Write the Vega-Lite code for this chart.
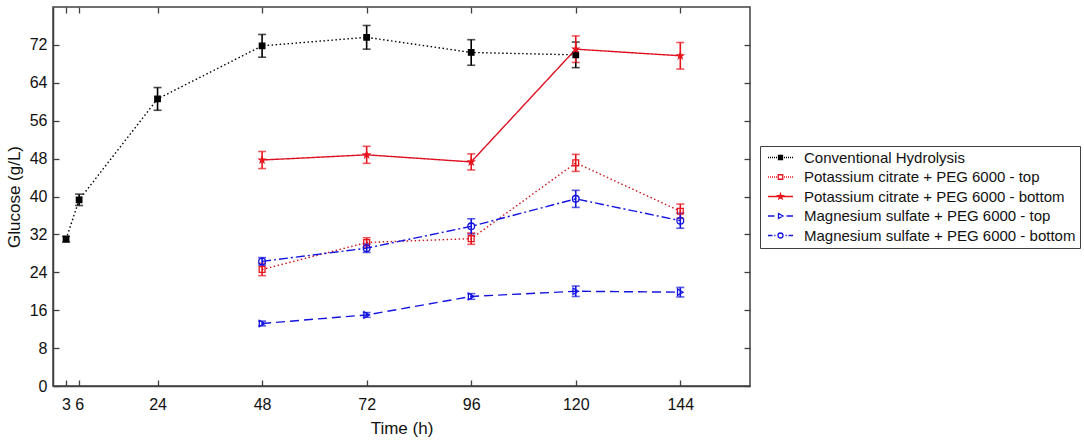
{
  "$schema": "https://vega.github.io/schema/vega-lite/v6.json",
  "width": 697,
  "height": 379,
  "autosize": "none",
  "padding": {"left": 53, "top": 7, "right": 334, "bottom": 54},
  "background": "white",
  "config": {
    "font": "Liberation Sans",
    "view": {"stroke": "#404040", "strokeWidth": 1.5},
    "axis": {
      "grid": false,
      "domainColor": "#404040",
      "domainWidth": 1.5,
      "tickColor": "#404040",
      "tickWidth": 1.3,
      "tickSize": -6,
      "labelColor": "#111111",
      "titleColor": "#111111",
      "labelFontSize": 16,
      "titleFontSize": 17,
      "titleFontWeight": "normal",
      "labelOverlap": false,
      "labelFlush": false
    }
  },
  "data": {
    "values": [
      {"time": 3, "series": "Conventional Hydrolysis", "glucose": 31.0, "sd": 0.6},
      {"time": 6, "series": "Conventional Hydrolysis", "glucose": 39.3, "sd": 1.2},
      {"time": 24, "series": "Conventional Hydrolysis", "glucose": 60.6, "sd": 2.4},
      {"time": 48, "series": "Conventional Hydrolysis", "glucose": 71.8, "sd": 2.4},
      {"time": 72, "series": "Conventional Hydrolysis", "glucose": 73.6, "sd": 2.5},
      {"time": 96, "series": "Conventional Hydrolysis", "glucose": 70.4, "sd": 2.7},
      {"time": 120, "series": "Conventional Hydrolysis", "glucose": 69.9, "sd": 2.7},
      {"time": 48, "series": "Potassium citrate + PEG 6000 - top", "glucose": 24.6, "sd": 1.3},
      {"time": 72, "series": "Potassium citrate + PEG 6000 - top", "glucose": 30.3, "sd": 1.0},
      {"time": 96, "series": "Potassium citrate + PEG 6000 - top", "glucose": 31.1, "sd": 1.2},
      {"time": 120, "series": "Potassium citrate + PEG 6000 - top", "glucose": 47.1, "sd": 1.8},
      {"time": 144, "series": "Potassium citrate + PEG 6000 - top", "glucose": 36.9, "sd": 1.5},
      {"time": 48, "series": "Potassium citrate + PEG 6000 - bottom", "glucose": 47.7, "sd": 1.8},
      {"time": 72, "series": "Potassium citrate + PEG 6000 - bottom", "glucose": 48.8, "sd": 1.8},
      {"time": 96, "series": "Potassium citrate + PEG 6000 - bottom", "glucose": 47.3, "sd": 1.7},
      {"time": 120, "series": "Potassium citrate + PEG 6000 - bottom", "glucose": 71.1, "sd": 2.8},
      {"time": 144, "series": "Potassium citrate + PEG 6000 - bottom", "glucose": 69.7, "sd": 2.8},
      {"time": 48, "series": "Magnesium sulfate + PEG 6000 - top", "glucose": 13.2, "sd": 0.5},
      {"time": 72, "series": "Magnesium sulfate + PEG 6000 - top", "glucose": 15.0, "sd": 0.5},
      {"time": 96, "series": "Magnesium sulfate + PEG 6000 - top", "glucose": 18.9, "sd": 0.6},
      {"time": 120, "series": "Magnesium sulfate + PEG 6000 - top", "glucose": 20.0, "sd": 1.1},
      {"time": 144, "series": "Magnesium sulfate + PEG 6000 - top", "glucose": 19.8, "sd": 1.0},
      {"time": 48, "series": "Magnesium sulfate + PEG 6000 - bottom", "glucose": 26.3, "sd": 0.8},
      {"time": 72, "series": "Magnesium sulfate + PEG 6000 - bottom", "glucose": 29.1, "sd": 0.9},
      {"time": 96, "series": "Magnesium sulfate + PEG 6000 - bottom", "glucose": 33.7, "sd": 1.6},
      {"time": 120, "series": "Magnesium sulfate + PEG 6000 - bottom", "glucose": 39.5, "sd": 1.8},
      {"time": 144, "series": "Magnesium sulfate + PEG 6000 - bottom", "glucose": 34.9, "sd": 1.6}
    ]
  },
  "layer": [
    {
      "mark": {"type": "errorbar", "ticks": {"size": 8}, "thickness": 1.6},
      "encoding": {
        "x": {
          "field": "time", "type": "quantitative",
          "scale": {"domain": [0, 150]},
          "axis": {"orient": "bottom", "values": [3, 6, 24, 48, 72, 96, 120, 144], "title": "Time (h)", "labelPadding": 16, "titlePadding": 8}
        },
        "y": {
          "field": "glucose", "type": "quantitative",
          "scale": {"domain": [0, 80]},
          "axis": {"orient": "left", "values": [0, 8, 16, 24, 32, 40, 48, 56, 64, 72], "title": "Glucose (g/L)", "labelPadding": 12, "titlePadding": 6}
        },
        "yError": {"field": "sd"},
        "color": {
          "field": "series", "type": "nominal",
          "scale": {
            "domain": ["Conventional Hydrolysis", "Potassium citrate + PEG 6000 - top", "Potassium citrate + PEG 6000 - bottom", "Magnesium sulfate + PEG 6000 - top", "Magnesium sulfate + PEG 6000 - bottom"],
            "range": ["#000000", "#e8141c", "#e8141c", "#1414e0", "#1414e0"]
          },
          "legend": null
        }
      }
    },
    {
      "mark": {"type": "line", "strokeWidth": 1.4},
      "encoding": {
        "x": {"field": "time", "type": "quantitative", "axis": null},
        "y": {"field": "glucose", "type": "quantitative", "axis": null},
        "color": {
          "field": "series", "type": "nominal",
          "scale": {
            "domain": ["Conventional Hydrolysis", "Potassium citrate + PEG 6000 - top", "Potassium citrate + PEG 6000 - bottom", "Magnesium sulfate + PEG 6000 - top", "Magnesium sulfate + PEG 6000 - bottom"],
            "range": ["#000000", "#c8141c", "#dc1020", "#1414e0", "#1414e0"]
          },
          "legend": null
        },
        "strokeDash": {
          "field": "series", "type": "nominal",
          "scale": {
            "domain": ["Conventional Hydrolysis", "Potassium citrate + PEG 6000 - top", "Potassium citrate + PEG 6000 - bottom", "Magnesium sulfate + PEG 6000 - top", "Magnesium sulfate + PEG 6000 - bottom"],
            "range": [[1.5, 2.5], [1.5, 2.5], [1, 0], [9, 5], [9, 3, 2, 3]]
          },
          "legend": null
        }
      }
    },
    {
      "mark": {"type": "point", "filled": false, "strokeWidth": 1.3, "opacity": 1},
      "encoding": {
        "x": {
          "field": "time", "type": "quantitative",
          "axis": {"orient": "top", "values": [3, 6, 24, 48, 72, 96, 120, 144], "labels": false, "title": null, "domain": false}
        },
        "y": {
          "field": "glucose", "type": "quantitative",
          "axis": {"orient": "right", "values": [0, 8, 16, 24, 32, 40, 48, 56, 64, 72], "labels": false, "title": null, "domain": false}
        },
        "color": {
          "field": "series", "type": "nominal",
          "scale": {
            "domain": ["Conventional Hydrolysis", "Potassium citrate + PEG 6000 - top", "Potassium citrate + PEG 6000 - bottom", "Magnesium sulfate + PEG 6000 - top", "Magnesium sulfate + PEG 6000 - bottom"],
            "range": ["#000000", "#e8141c", "#e8141c", "#1414e0", "#1414e0"]
          },
          "legend": null
        },
        "size": {
          "field": "series", "type": "nominal",
          "scale": {
            "domain": ["Conventional Hydrolysis", "Potassium citrate + PEG 6000 - top", "Potassium citrate + PEG 6000 - bottom", "Magnesium sulfate + PEG 6000 - top", "Magnesium sulfate + PEG 6000 - bottom"],
            "range": [30, 45, 55, 45, 45]
          },
          "legend": null
        },
        "shape": {
          "field": "series", "type": "nominal",
          "scale": {
            "domain": ["Conventional Hydrolysis", "Potassium citrate + PEG 6000 - top", "Potassium citrate + PEG 6000 - bottom", "Magnesium sulfate + PEG 6000 - top", "Magnesium sulfate + PEG 6000 - bottom"],
            "range": ["square", "square", "M0,-1L0.235,-0.324L0.951,-0.309L0.38,0.124L0.588,0.809L0,0.4L-0.588,0.809L-0.38,0.124L-0.951,-0.309L-0.235,-0.324Z", "triangle-right", "circle"]
          },
          "legend": null
        },
        "fill": {
          "field": "series", "type": "nominal",
          "scale": {
            "domain": ["Conventional Hydrolysis", "Potassium citrate + PEG 6000 - top", "Potassium citrate + PEG 6000 - bottom", "Magnesium sulfate + PEG 6000 - top", "Magnesium sulfate + PEG 6000 - bottom"],
            "range": ["#000000", "transparent", "transparent", "transparent", "transparent"]
          },
          "legend": null
        }
      }
    },
    {
      "transform": [{"filter": "false"}],
      "mark": {"type": "point", "filled": false, "size": 225, "strokeWidth": 1.3, "opacity": 1},
      "encoding": {
        "color": {
          "field": "series", "type": "nominal",
          "scale": {
            "domain": ["Conventional Hydrolysis", "Potassium citrate + PEG 6000 - top", "Potassium citrate + PEG 6000 - bottom", "Magnesium sulfate + PEG 6000 - top", "Magnesium sulfate + PEG 6000 - bottom"],
            "range": ["#000000", "#e8141c", "#e8141c", "#1414e0", "#1414e0"]
          },
          "legend": {"orient": "none", "legendX": 707, "legendY": 139, "title": null, "padding": 4, "strokeColor": "#404040", "symbolOffset": 9, "symbolStrokeWidth": 1.3, "labelFontSize": 15, "labelOffset": 16, "rowPadding": 3.5, "labelColor": "#111111", "labelLimit": 400}
        },
        "shape": {
          "field": "series", "type": "nominal",
          "scale": {
            "domain": ["Conventional Hydrolysis", "Potassium citrate + PEG 6000 - top", "Potassium citrate + PEG 6000 - bottom", "Magnesium sulfate + PEG 6000 - top", "Magnesium sulfate + PEG 6000 - bottom"],
            "range": [
              "M-2.5,0h0.2M-2.1,0h0.2M-1.7,0h0.2M-1.3,0h0.2M-0.9,0h0.2M0.7,0h0.2M1.1,0h0.2M1.5,0h0.2M1.9,0h0.2M2.3,0h0.2M-0.4,-0.4H0.4V0.4H-0.4Z",
              "M-2.5,0h0.2M-2.1,0h0.2M-1.7,0h0.2M-1.3,0h0.2M-0.9,0h0.2M0.7,0h0.2M1.1,0h0.2M1.5,0h0.2M1.9,0h0.2M2.3,0h0.2M-0.45,-0.45H0.45V0.45H-0.45Z",
              "M-2.5,0H2.5M0,-0.55L0.129,-0.178L0.523,-0.17L0.209,0.068L0.323,0.445L0,0.22L-0.323,0.445L-0.209,0.068L-0.523,-0.17L-0.129,-0.178Z",
              "M-2.5,0H-1.2M1.2,0H2.5M-0.4,-0.5L0.5,0L-0.4,0.5Z",
              "M-2.5,0H-1.6M-1.25,0H-1.0M1.0,0H1.25M1.6,0H2.5M-0.5,0A0.5,0.5 0 1,0 0.5,0A0.5,0.5 0 1,0 -0.5,0Z"
            ]
          },
          "legend": {"orient": "none", "legendX": 707, "legendY": 139, "title": null, "padding": 4, "strokeColor": "#404040", "symbolOffset": 9, "symbolStrokeWidth": 1.3, "labelFontSize": 15, "labelOffset": 16, "rowPadding": 3.5, "labelColor": "#111111", "labelLimit": 400}
        },
        "fill": {
          "field": "series", "type": "nominal",
          "scale": {
            "domain": ["Conventional Hydrolysis", "Potassium citrate + PEG 6000 - top", "Potassium citrate + PEG 6000 - bottom", "Magnesium sulfate + PEG 6000 - top", "Magnesium sulfate + PEG 6000 - bottom"],
            "range": ["#000000", "transparent", "transparent", "transparent", "transparent"]
          },
          "legend": {"orient": "none", "legendX": 707, "legendY": 139, "title": null, "padding": 4, "strokeColor": "#404040", "symbolOffset": 9, "symbolStrokeWidth": 1.3, "labelFontSize": 15, "labelOffset": 16, "rowPadding": 3.5, "labelColor": "#111111", "labelLimit": 400}
        }
      }
    }
  ],
  "resolve": {
    "scale": {"color": "independent", "shape": "independent", "fill": "independent"},
    "axis": {"x": "independent", "y": "independent"}
  }
}
